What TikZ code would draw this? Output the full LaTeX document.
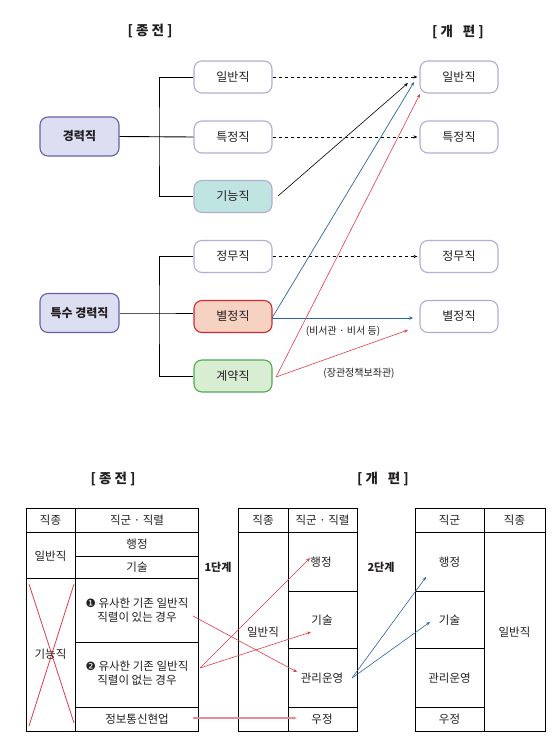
\documentclass[tikz,border=0pt]{standalone}
\usepackage{fontspec}
\newfontfamily\kr{Noto Sans CJK KR}
\newfontfamily\dv{DejaVu Sans}
\usetikzlibrary{arrows.meta}
\definecolor{mainfill}{HTML}{DCDFF2}
\definecolor{mainline}{HTML}{6B5EA8}
\definecolor{subline}{HTML}{B3ADD3}
\definecolor{tealfill}{HTML}{BFE4E1}
\definecolor{redfill}{HTML}{F6D2C2}
\definecolor{redline}{HTML}{D02A30}
\definecolor{greenfill}{HTML}{D9EDD3}
\definecolor{greenline}{HTML}{4AAE4A}
\definecolor{bluearr}{HTML}{2A64A4}
\definecolor{redarr}{HTML}{E03B4B}
\definecolor{pinkarr}{HTML}{E8899A}
\definecolor{txt}{HTML}{231F20}
\begin{document}
\begin{tikzpicture}[x=1pt,y=-1pt,
  every node/.style={font=\kr\fontsize{12}{14}\selectfont, inner sep=0pt, text=txt},
  mainbox/.style={draw=mainline, fill=mainfill, line width=1.1pt, rounded corners=8pt, minimum width=79pt, minimum height=39pt, font=\kr\bfseries\fontsize{12}{14}\selectfont},
  subbox/.style={draw=subline, fill=white, line width=1.1pt, rounded corners=8pt, minimum width=78pt, minimum height=32pt},
  title/.style={font=\kr\bfseries\fontsize{13.5}{16}\selectfont},
  stage/.style={font=\kr\bfseries\fontsize{11}{13}\selectfont},
  lbl/.style={font=\kr\fontsize{10}{12}\selectfont},
  cell/.style={font=\kr\fontsize{11.5}{14.5}\selectfont, align=center},
  tbl/.style={line width=0.9pt, black},
  branch/.style={line width=0.9pt, black},
  tip/.style={-{Stealth[length=4pt,width=3.2pt]}},
  dashedarr/.style={tip, dashed, line width=0.7pt, black},
]
\useasboundingbox (0,0) rectangle (559,746);

% ---------- top titles
\node[title] (t1) at (150,31) {[ 종 전 ]};
\node[title] (t2) at (458,32) {[ 개\enspace\ 편 ]};

% ---------- top left boxes
\node[mainbox] (gr) at (79.5,136.5) {경력직};
\node[mainbox] (tg) at (79.5,313) {특수 경력직};
\node[subbox] (l1) at (233,77) {일반직};
\node[subbox] (l2) at (233,137) {특정직};
\node[subbox, fill=tealfill] (l3) at (233,196.5) {기능직};
\node[subbox] (l4) at (233,256.5) {정무직};
\node[subbox, fill=redfill, draw=redline] (l5) at (233,316.5) {별정직};
\node[subbox, fill=greenfill, draw=greenline] (l6) at (233,376) {계약직};

% ---------- top right boxes
\node[subbox] (r1) at (459,77) {일반직};
\node[subbox] (r2) at (459,137) {특정직};
\node[subbox] (r4) at (459,256.5) {정무직};
\node[subbox] (r5) at (459,316.5) {별정직};

% ---------- branches
\coordinate (b1) at (159,136.5);
\coordinate (b2) at (159,313);
\draw[branch] (gr.east) -- (l2.west);
\draw[branch] (l1.west) -| (b1) |- (l3.west);
\draw[branch] (tg.east) -- (b2) -- (l5.west |- b2);
\draw[branch] (l4.west) -| (b2) |- (l6.west);

% ---------- top arrows
\draw[dashedarr, shorten >=2pt] (l1.east) -- (r1.west);
\draw[dashedarr, shorten >=2pt] (l2.east) -- (r2.west);
\draw[dashedarr, shorten >=2pt] (l4.east) -- (r4.west);

\coordinate (k1) at (278,196);
\coordinate (k2) at (408,83);
\draw[tip, line width=0.6pt, black] (k1) -- (k2);

\coordinate (bs) at (272,318);
\coordinate (bt1) at (414,82);
\coordinate (bt2) at (413,318);
\draw[tip, line width=0.7pt, bluearr] (bs) -- (bt1);
\draw[tip, line width=0.9pt, bluearr] (bs) -- (bt2);

\coordinate (rs) at (276,377);
\coordinate (rt1) at (420,94);
\coordinate (rt2) at (408,330);
\draw[tip, line width=0.6pt, redarr] (rs) -- (rt1);
\draw[tip, line width=0.6pt, redarr] (rs) -- (rt2);

\node[lbl] (n1) at (343,331) {(비서관 · 비서 등)};
\node[lbl] (n2) at (359,373) {(장관정책보좌관)};

% ---------- bottom titles
\node[title] (t3) at (113,479) {[ 종 전 ]};
\node[title] (t4) at (383,479) {[ 개\enspace\ 편 ]};
\node[stage] (s1) at (218,567) {1단계};
\node[stage] (s2) at (381,567) {2단계};

% ---------- table 1
\draw[tbl] (26,508) rectangle (198,731);
\draw[tbl] (75,508) -- (75,731);
\draw[tbl] (26,532) -- (198,532);
\draw[tbl] (75,556) -- (198,556);
\draw[tbl] (26,578) -- (198,578);
\draw[tbl] (75,642) -- (198,642);
\draw[tbl] (75,707) -- (198,707);
\draw[line width=0.8pt, redarr] (29,584) -- (74,723);
\draw[line width=0.8pt, redarr] (74,584) -- (29,726);

\node[cell] (a1) at (50.5,520) {직종};
\node[cell] (a2) at (137,520) {직군 · 직렬};
\node[cell] (a3) at (50.5,556) {일반직};
\node[cell] (a4) at (137,544) {행정};
\node[cell] (a5) at (137,567) {기술};
\node[cell] (a6) at (50.5,654) {기능직};
\node[cell] (a7) at (137,610) {{\dv ❶} 유사한 기존 일반직\\직렬이 있는 경우};
\node[cell] (a8) at (137,673) {{\dv ❷} 유사한 기존 일반직\\직렬이 없는 경우};
\node[cell] (a9) at (137,719) {정보통신현업};

% ---------- table 2
\draw[tbl] (238,508) rectangle (357,731);
\draw[tbl] (288,508) -- (288,731);
\draw[tbl] (238,532) -- (357,532);
\draw[tbl] (288,591) -- (357,591);
\draw[tbl] (288,648) -- (357,648);
\draw[tbl] (288,707) -- (357,707);

\node[cell] (c1) at (263,520) {직종};
\node[cell] (c2) at (322.5,520) {직군 · 직렬};
\node[cell] (c3) at (263,632) {일반직};
\node[cell] (c4) at (321,562) {행정};
\node[cell] (c5) at (322,620) {기술};
\node[cell] (c6) at (322,678) {관리운영};
\node[cell] (c7) at (322,719) {우정};

% ---------- table 3
\draw[tbl] (415,508) rectangle (545,731);
\draw[tbl] (484,508) -- (484,731);
\draw[tbl] (415,532) -- (545,532);
\draw[tbl] (415,591) -- (484,591);
\draw[tbl] (415,648) -- (484,648);
\draw[tbl] (415,707) -- (484,707);

\node[cell] (e1) at (449.5,520) {직군};
\node[cell] (e2) at (514.5,520) {직종};
\node[cell] (e3) at (449.5,562) {행정};
\node[cell] (e4) at (449.5,620) {기술};
\node[cell] (e5) at (449.5,678) {관리운영};
\node[cell] (e6) at (449.5,719) {우정};
\node[cell] (e7) at (514.5,632) {일반직};

% ---------- bottom arrows
\coordinate (p1) at (193,616);
\coordinate (p2) at (200,668);
\coordinate (p3) at (193,718);
\coordinate (q1) at (297,672);
\coordinate (q2) at (310,558);
\coordinate (q3) at (311,632);
\coordinate (q4) at (297,718);
\draw[tip, line width=0.6pt, redarr] (p1) -- (q1);
\draw[tip, line width=0.6pt, redarr] (p2) -- (q2);
\draw[tip, line width=0.6pt, redarr] (p2) -- (q3);
\draw[tip, line width=1.1pt, pinkarr] (p3) -- (q4);

\coordinate (u0) at (352,678);
\coordinate (u1) at (426,577);
\coordinate (u2) at (430,622);
\draw[tip, line width=0.6pt, bluearr] (u0) -- (u1);
\draw[tip, line width=0.6pt, bluearr] (u0) -- (u2);
\end{tikzpicture}
\end{document}
